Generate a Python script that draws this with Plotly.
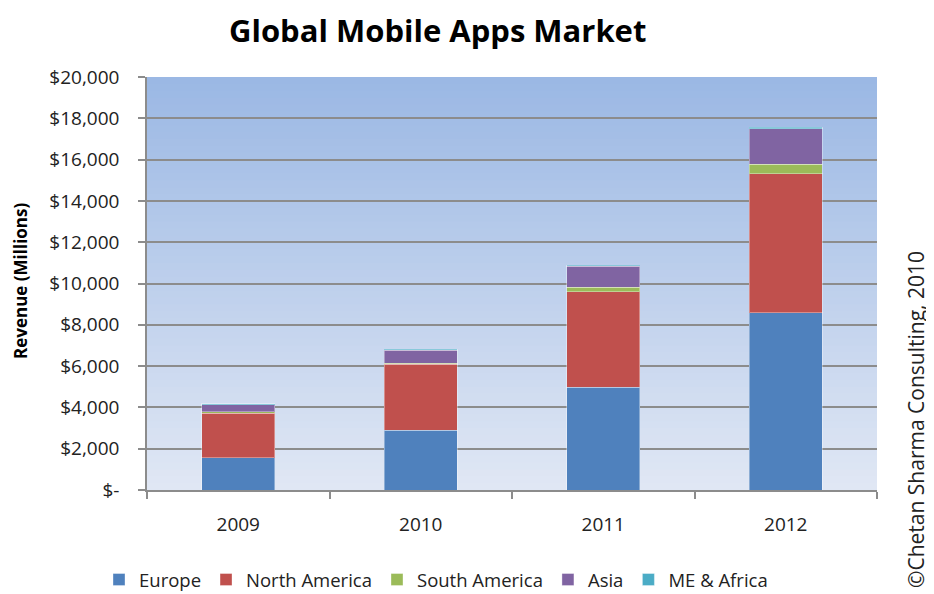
import plotly.graph_objects as go

years = ["2009", "2010", "2011", "2012"]
series_names = ["Europe", "North America", "South America", "Asia", "ME & Africa"]
europe = [1560, 2900, 4970, 8590]
north_america = [2150, 3180, 4630, 6720]
south_america = [70, 65, 210, 470]
asia = [340, 615, 1020, 1710]
me_africa = [50, 50, 60, 65]
colors = ["#4F81BD", "#C0504D", "#9BBB59", "#8064A2", "#4BACC6"]
tick_vals = [0, 2000, 4000, 6000, 8000, 10000, 12000, 14000, 16000, 18000, 20000]
tick_text = ["$-", "$2,000", "$4,000", "$6,000", "$8,000", "$10,000", "$12,000",
             "$14,000", "$16,000", "$18,000", "$20,000"]

FONT = "Open Sans"
OFF = 8  # page body margin offset
W, H = 934, 594
ML, MT = 147 - OFF, 77 - OFF
PW, PH = 730, 413
MR = W - ML - PW
MB = H - MT - PH


def px(xp):
    return (xp - OFF - ML) / PW


def py(yp):
    return (MT + PH - (yp - OFF)) / PH


fig = go.Figure()
for name, vals, col in zip(series_names, [europe, north_america, south_america, asia, me_africa], colors):
    fig.add_trace(go.Bar(x=years, y=vals, name=name, marker_color=col,
                         marker_line=dict(color="rgba(255,255,255,0.35)", width=1)))

# gradient background
top = (155, 184, 228)
bot = (224, 231, 244)
n = 60
for i in range(n):
    t = i / (n - 1)
    c = tuple(round(bot[k] + (top[k] - bot[k]) * t) for k in range(3))
    fig.add_shape(type="rect", xref="paper", yref="paper", x0=0, x1=1,
                  y0=i / n, y1=min(1, (i + 1) / n + 0.002), layer="below",
                  line_width=0, fillcolor="rgb(%d,%d,%d)" % c)

fig.update_layout(
    barmode="stack", bargap=0.6,
    width=W, height=H,
    margin=dict(l=ML, r=MR, t=MT, b=MB, autoexpand=False),
    paper_bgcolor="white", plot_bgcolor="rgba(0,0,0,0)",
    font=dict(family=FONT, size=19, color="#222222"),
    showlegend=True,
    legend=dict(orientation="h", x=px(99), y=py(580), xanchor="left", yanchor="middle",
                font=dict(size=18.5, family=FONT), itemwidth=30, traceorder="normal"),
    annotations=[
        dict(text="<b>Global Mobile Apps Market</b>", xref="paper", yref="paper",
             x=px(437), y=py(8), xanchor="center", yanchor="top", borderpad=0,
             showarrow=False, font=dict(size=31, family=FONT, color="black")),
        dict(text="<b>Revenue (Millions)</b>", xref="paper", yref="paper",
             x=px(20), y=py(281), xanchor="center", yanchor="middle",
             textangle=-90, showarrow=False, font=dict(size=17, family=FONT, color="black")),
        dict(text="©Chetan Sharma Consulting, 2010", xref="paper", yref="paper",
             x=px(916), y=py(420), xanchor="center", yanchor="middle",
             textangle=-90, showarrow=False, font=dict(size=21, family=FONT, color="#222222")),
    ],
)
fig.update_xaxes(showline=True, linecolor="#8c8c8c", linewidth=1.5,
                 ticks="outside", tickson="boundaries", ticklen=7, tickcolor="#8c8c8c",
                 tickwidth=1.5, ticklabelstandoff=16, showgrid=False,
                 tickfont=dict(size=19))
fig.update_yaxes(range=[0, 20000], tickvals=tick_vals, ticktext=tick_text,
                 showline=True, linecolor="#8c8c8c", linewidth=1.5,
                 ticks="outside", ticklen=7, tickcolor="#8c8c8c", tickwidth=1.5,
                 ticklabelstandoff=15, tickfont=dict(size=19),
                 showgrid=True, gridcolor="#8c8c8c", gridwidth=1.5, zeroline=False)

fig.write_html("out.html")
